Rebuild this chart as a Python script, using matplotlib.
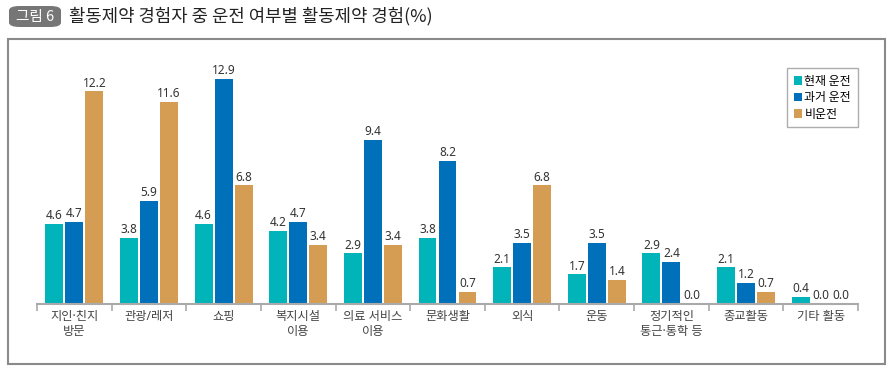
import numpy as np
import matplotlib
matplotlib.use('Agg')
import matplotlib.pyplot as plt
from matplotlib.patches import Rectangle, FancyBboxPatch

plt.rcParams['font.family'] = ['Noto Sans CJK KR', 'DejaVu Sans']

categories = ['지인·친지\n방문', '관광/레저', '쇼핑', '복지시설\n이용', '의료 서비스\n이용',
              '문화생활', '외식', '운동', '정기적인\n통근·통학 등', '종교활동', '기타 활동']
series_names = ['현재 운전', '과거 운전', '비운전']
current = [4.6, 3.8, 4.6, 4.2, 2.9, 3.8, 2.1, 1.7, 2.9, 2.1, 0.4]
past = [4.7, 5.9, 12.9, 4.7, 9.4, 8.2, 3.5, 3.5, 2.4, 1.2, 0.0]
never = [12.2, 11.6, 6.8, 3.4, 3.4, 0.7, 6.8, 1.4, 0.0, 0.7, 0.0]
colors = ['#00B4BA', '#0070BA', '#D59D54']

W, H = 896, 374
fig = plt.figure(figsize=(W / 100, H / 100), dpi=100)

# 바깥 테두리 상자
fig.patches.append(Rectangle((8 / W, 1 - 364 / H), 877 / W, 325 / H, transform=fig.transFigure,
                             fill=False, edgecolor='#8a8a8a', linewidth=1.5))
# 제목 배지
fig.patches.append(FancyBboxPatch((9 / W, 1 - 27 / H), 52 / W, 21 / H, transform=fig.transFigure,
                                  boxstyle='round,pad=0,rounding_size=0.012',
                                  facecolor='#767676', edgecolor='none'))
fig.text(35 / W, 1 - 16.5 / H, '그림 6', color='white', fontsize=10.5, ha='center', va='center')
fig.text(69 / W, 1 - 16.5 / H, '활동제약 경험자 중 운전 여부별 활동제약 경험(%)', color='#222222',
         fontsize=12.8, ha='left', va='center')

ax = fig.add_axes([37 / W, 1 - 304 / H, 821 / W, 244 / H])
x = np.arange(len(categories)) + 0.5
width = 0.241
offsets = [-0.268, 0, 0.268]
for vals, off, c, name in zip([current, past, never], offsets, colors, series_names):
    bars = ax.bar(x + off, vals, width, color=c, label=name)
    for b, v in zip(bars, vals):
        ax.text(b.get_x() + b.get_width() / 2, v + 0.1, f'{v:.1f}', ha='center', va='bottom',
                fontsize=8.5, color='#333333', family=['Noto Sans', 'DejaVu Sans'])

ax.set_xlim(0, len(categories))
ax.set_ylim(0, 14)
for s in ['top', 'right', 'left']:
    ax.spines[s].set_visible(False)
ax.spines['bottom'].set_color('#aaaaaa')
ax.spines['bottom'].set_linewidth(1.5)
ax.set_yticks([])
ax.set_xticks(np.arange(len(categories) + 1))
ax.set_xticklabels([])
ax.set_xticks(x, minor=True)
ax.set_xticklabels(categories, minor=True, fontsize=8.8, color='#444444', linespacing=1.25,
                   family=['Noto Sans', 'Noto Sans CJK KR'])
ax.tick_params(axis='x', which='major', direction='out', length=5, color='#aaaaaa', width=1.2)
ax.tick_params(axis='x', which='minor', length=0, pad=4)

leg = ax.legend(loc='upper left', bbox_to_anchor=((787 - 37) / 821, (304 - 68) / 244),
                fontsize=8.6, frameon=True, fancybox=False, edgecolor='#999999',
                handlelength=0.7, handleheight=0.7, handletextpad=0.2, labelspacing=0.3,
                borderpad=0.55, borderaxespad=0)
leg.get_frame().set_linewidth(1.0)

fig.savefig('out.png', dpi=100)
